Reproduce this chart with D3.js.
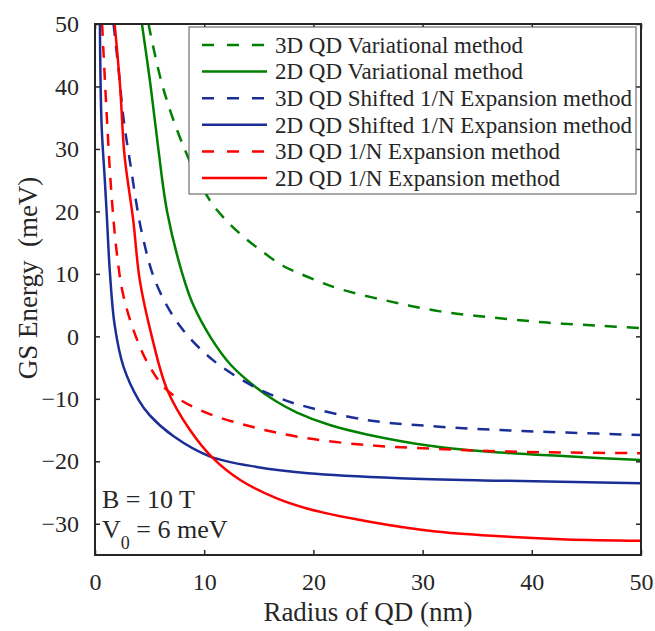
<!DOCTYPE html>
<html>
<head>
<meta charset="utf-8">
<script src="https://cdn.jsdelivr.net/npm/d3@7"></script>
<style>
    body { margin: 0; background: #fff; }
    svg, svg text { font-family: "Liberation Serif", "Times New Roman", Tinos, "DejaVu Serif", serif !important; }
    text { fill: #262626; }
</style>
</head>
<body>
<svg id="chart" width="655" height="631"></svg>
<script>
/**
 * Data: ground-state energy (meV) vs radius of QD (nm).
 */
const var3dR = [4.9, 6.2, 8.2, 10.5, 12.0, 13.3, 15.0, 17.2, 19.5, 22.4, 27.0, 31.6, 36.5, 41.4, 46.2, 50];
const var3dE = [50, 40, 30, 21.8, 18.6, 16.4, 14.0, 11.3, 9.5, 7.6, 5.6, 4.0, 3.0, 2.2, 1.7, 1.3];

const var2dR = [4.3, 5.1, 5.8, 6.6, 8.0, 9.0, 10.6, 12.4, 14.7, 16.5, 18.5, 21.5, 24.9, 31.0, 37.1, 43.2, 50];
const var2dE = [50, 40, 30, 20, 10, 5.0, -0.2, -4.5, -8.1, -10.3, -12.2, -14.2, -15.7, -17.6, -18.6, -19.2, -19.8];

const shift3dR = [1.7, 2.2, 2.6, 3.2, 4.3, 5.6, 7.8, 10.8, 14.5, 16.9, 18.8, 24.9, 31.0, 37.1, 43.2, 50];
const shift3dE = [50, 42, 35, 28, 16.5, 8.5, 1.6, -3.8, -8.0, -9.9, -11.0, -13.4, -14.4, -15.0, -15.4, -15.8];

const shift2dR = [0.45, 0.6, 0.9, 1.07, 1.37, 1.8, 2.6, 4.0, 5.0, 7.2, 10.5, 14.8, 19.5, 27.9, 37.1, 50];
const shift2dE = [50, 34, 25, 19.7, 10.1, 1.8, -4.8, -10.2, -12.6, -16.0, -19.2, -20.9, -21.9, -22.7, -23.1, -23.5];

const n3dR = [0.65, 1.1, 1.5, 2.0, 2.6, 3.8, 5.0, 6.6, 9.6, 14.2, 19.0, 24.9, 31.0, 37.1, 43.2, 50];
const n3dE = [50, 34.6, 23, 13.3, 6.5, -0.3, -4.8, -8.6, -11.8, -14.4, -16.2, -17.4, -18.0, -18.4, -18.6, -18.7];

const n2dR = [1.8, 2.3, 2.7, 3.5, 4.1, 5.2, 6.6, 8.7, 10.8, 13.3, 16.6, 19.5, 24.9, 31.0, 37.1, 43.2, 50];
const n2dE = [50, 40, 29, 18.6, 9, 0, -8.5, -15.0, -19.5, -23.0, -25.9, -27.6, -29.6, -31.2, -32.0, -32.5, -32.7];

const seriesNames = [
    '3D QD Variational method',
    '2D QD Variational method',
    '3D QD Shifted 1/N Expansion method',
    '2D QD Shifted 1/N Expansion method',
    '3D QD 1/N Expansion method',
    '2D QD 1/N Expansion method'
];
const xTicks = [0, 10, 20, 30, 40, 50];
const yTicks = [-30, -20, -10, 0, 10, 20, 30, 40, 50];

/**
 * Visual configs.
 */
const margin = { top: 24, right: 14, bottom: 76, left: 95 },
    visWidth = 655, visHeight = 631,
    width = visWidth - margin.left - margin.right,
    height = visHeight - margin.top - margin.bottom,
    tickLen = 5,
    serif = '"Liberation Serif", "Times New Roman", Tinos, "DejaVu Serif", serif',
    axisColor = '#262626',
    green = '#008000', blue = '#1a2e96', red = '#ff0000';

const series = [
    { name: seriesNames[0], r: var3dR, e: var3dE, color: green, dashed: true },
    { name: seriesNames[1], r: var2dR, e: var2dE, color: green, dashed: false },
    { name: seriesNames[2], r: shift3dR, e: shift3dE, color: blue, dashed: true },
    { name: seriesNames[3], r: shift2dR, e: shift2dE, color: blue, dashed: false },
    { name: seriesNames[4], r: n3dR, e: n3dE, color: red, dashed: true },
    { name: seriesNames[5], r: n2dR, e: n2dE, color: red, dashed: false }
];

const x = d3.scaleLinear().domain([0, 50]).range([0, width]);
const y = d3.scaleLinear().domain([-35, 50]).range([height, 0]);

const svg = d3.select('#chart').attr('font-family', serif);
const g = svg.append('g').attr('transform', 'translate(' + margin.left + ',' + margin.top + ')');

g.append('clipPath').attr('id', 'plot-clip')
    .append('rect').attr('width', width).attr('height', height);

// Curves
const line = d3.line()
    .x(d => x(d[0]))
    .y(d => y(d[1]))
    .curve(d3.curveCatmullRom.alpha(0.5));

g.append('g').attr('clip-path', 'url(#plot-clip)')
    .selectAll('path').data(series).enter().append('path')
    .attr('d', s => line(s.r.map((r, i) => [r, s.e[i]])))
    .attr('fill', 'none')
    .attr('stroke', s => s.color)
    .attr('stroke-width', 2.5)
    .attr('stroke-dasharray', s => s.dashed ? '12,10' : null);

// Axes (box with inward ticks on all four sides)
function styleAxis(sel) {
    sel.attr('font-family', serif);
    sel.select('.domain').remove();
    sel.selectAll('.tick line').attr('stroke', axisColor).attr('stroke-width', 1.5);
    sel.selectAll('.tick text').attr('font-size', 24).attr('fill', axisColor);
}

g.append('g').attr('transform', 'translate(0,' + height + ')')
    .call(d3.axisBottom(x).tickValues(xTicks).tickSizeInner(-tickLen).tickPadding(18))
    .call(styleAxis);
g.append('g')
    .call(d3.axisTop(x).tickValues(xTicks).tickSizeInner(-tickLen).tickFormat(''))
    .call(styleAxis);
g.append('g')
    .call(d3.axisLeft(y).tickValues(yTicks).tickSizeInner(-tickLen).tickPadding(16))
    .call(styleAxis);
g.append('g').attr('transform', 'translate(' + width + ',0)')
    .call(d3.axisRight(y).tickValues(yTicks).tickSizeInner(-tickLen).tickFormat(''))
    .call(styleAxis);

g.append('rect')
    .attr('width', width).attr('height', height)
    .attr('fill', 'none').attr('stroke', axisColor).attr('stroke-width', 2);

// Axis labels
g.append('text')
    .attr('x', width / 2).attr('y', height + 66)
    .attr('text-anchor', 'middle').attr('font-size', 27)
    .text('Radius of QD (nm)');

g.append('text')
    .attr('transform', 'translate(' + (37 - margin.left) + ',' + (254) + ') rotate(-90)')
    .attr('text-anchor', 'middle').attr('font-size', 27)
    .attr('xml:space', 'preserve')
    .style('white-space', 'pre')
    .text('GS Energy  (meV)');

// Annotations
g.append('text')
    .attr('x', 7).attr('y', 484).attr('font-size', 26)
    .text('B = 10 T');
const v0 = g.append('text').attr('x', 7).attr('y', 514).attr('font-size', 26);
v0.append('tspan').text('V');
v0.append('tspan').attr('dy', 11).attr('font-size', 18).text('0');
v0.append('tspan').attr('dy', -11).text(' = 6 meV');

// Legend
const legend = g.append('g').attr('transform', 'translate(' + (189 - margin.left) + ',' + (27 - margin.top) + ')');
legend.append('rect')
    .attr('width', 447).attr('height', 167)
    .attr('fill', '#fff').attr('stroke', '#555').attr('stroke-width', 1);

const rows = legend.selectAll('.row').data(series).enter().append('g')
    .attr('class', 'row')
    .attr('transform', (d, i) => 'translate(0,' + (18 + i * 26.6) + ')');
rows.append('line')
    .attr('x1', 13).attr('x2', 78)
    .attr('stroke', d => d.color).attr('stroke-width', 2.5)
    .attr('stroke-dasharray', d => d.dashed ? '12,13' : null);
rows.append('text')
    .attr('x', 86).attr('dy', '0.34em').attr('font-size', 23)
    .text(d => d.name);
</script>
</body>
</html>
